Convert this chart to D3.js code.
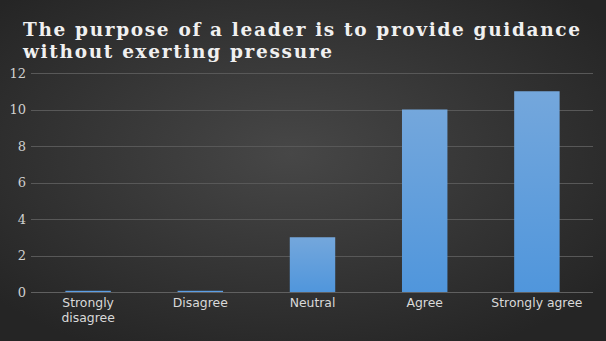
<!DOCTYPE html>
<html><head><meta charset="utf-8">
<script src="https://cdn.jsdelivr.net/npm/d3@7"></script>
<style>html,body{margin:0;padding:0;background:#2a2a2a;}svg{display:block;}</style>
</head><body>
<svg id="c" width="606" height="341"></svg>
<script>
const categories = ["Strongly disagree", "Disagree", "Neutral", "Agree", "Strongly agree"];
const values = [0, 0, 3, 10, 11];
const yTicks = [0, 2, 4, 6, 8, 10, 12];
const titleLines = ["The purpose of a leader is to provide guidance", "without exerting pressure"];

const W = 606, H = 341;
const svg = d3.select("#c");
const defs = svg.append("defs");
const bg = defs.append("radialGradient").attr("id","bg").attr("cx","48%").attr("cy","45%").attr("r","65%");
bg.append("stop").attr("offset","0%").attr("stop-color","#474747");
bg.append("stop").attr("offset","100%").attr("stop-color","#252525");
const bar = defs.append("linearGradient").attr("id","bar").attr("x1",0).attr("y1",0).attr("x2",0).attr("y2",1);
bar.append("stop").attr("offset","0%").attr("stop-color","#74a7dc");
bar.append("stop").attr("offset","100%").attr("stop-color","#5096dc");

svg.append("rect").attr("width",W).attr("height",H).attr("fill","url(#bg)");

const m = {left:32, right:13, top:73, bottom:49};
const x = d3.scaleBand().domain(categories).range([m.left, W-m.right]).paddingInner(0.595).paddingOuter(0.2975);
const y = d3.scaleLinear().domain([0,12]).range([H-m.bottom, m.top]);

// gridlines
svg.append("g").selectAll("line").data(yTicks).join("line")
  .attr("x1",m.left-1).attr("x2",W-m.right)
  .attr("y1",d=>Math.round(y(d))+0.5).attr("y2",d=>Math.round(y(d))+0.5)
  .attr("stroke",d=>d===0?"#606060":"#585858").attr("stroke-width",1);

// y axis labels
const yAxis = d3.axisLeft(y).tickValues(yTicks).tickSize(0).tickPadding(5);
const gy = svg.append("g").attr("transform",`translate(${m.left-1},0)`).call(yAxis);
gy.select(".domain").remove();
gy.selectAll("text").attr("fill","#d0d0d0").attr("font-family","DejaVu Serif").attr("font-size","13px");

// bars
svg.append("g").selectAll("rect").data(values).join("rect")
  .attr("x",(d,i)=>x(categories[i]))
  .attr("width",x.bandwidth())
  .attr("y",d=>Math.min(y(d), y(0)-1.2))
  .attr("height",d=>Math.max(y(0)-y(d),1.2))
  .attr("fill",d=>d===0?"#5b9ee6":"url(#bar)");

// x axis labels
const gx = svg.append("g").attr("transform",`translate(0,${y(0)})`)
  .call(d3.axisBottom(x).tickSize(0).tickPadding(6).tickFormat(()=>""));
gx.select(".domain").remove();
gx.selectAll(".tick").each(function(d){
  const t = d3.select(this).append("text").attr("fill","#d9d9d9")
    .attr("font-family","DejaVu Sans").attr("font-size","12.4px").attr("text-anchor","middle");
  const lines = d === "Strongly disagree" ? ["Strongly","disagree"] : [d];
  lines.forEach((l,i)=>t.append("tspan").attr("x",0).attr("y",15+i*15).text(l));
});

// title
const tt = svg.append("text").attr("fill","#f0f0f0").attr("font-family","DejaVu Serif")
  .attr("font-weight","bold").attr("font-size","18.5px");
tt.append("tspan").attr("x",23).attr("y",36).attr("textLength",557).attr("lengthAdjust","spacing").text(titleLines[0]);
tt.append("tspan").attr("x",23).attr("y",58).attr("textLength",309).attr("lengthAdjust","spacing").text(titleLines[1]);
</script>
</body></html>
